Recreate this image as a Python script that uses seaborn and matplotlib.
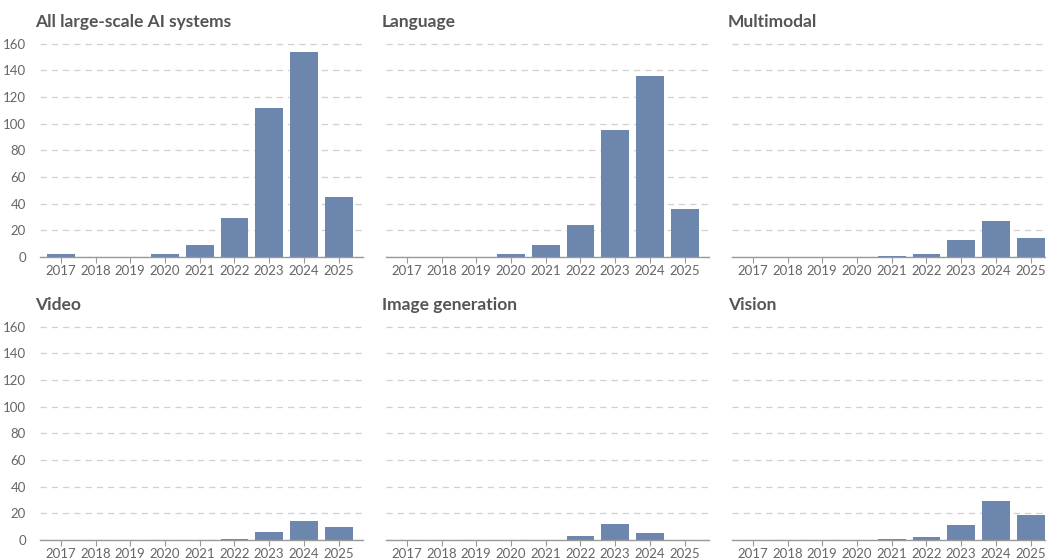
import matplotlib
matplotlib.use("Agg")
import matplotlib.pyplot as plt
import pandas as pd
import seaborn as sns

# data
years = ["2017", "2018", "2019", "2020", "2021", "2022", "2023", "2024", "2025"]
all_systems = [2, 0, 0, 2, 9, 29, 112, 154, 45]
language = [0, 0, 0, 2, 9, 24, 95, 136, 36]
multimodal = [0, 0, 0, 0, 1, 2, 13, 27, 14]
video = [0, 0, 0, 0, 0, 1, 6, 14, 10]
image_generation = [0, 0, 0, 0, 0, 3, 12, 5, 0]
vision = [0, 0, 0, 0, 1, 2, 11, 29, 19]

panels = [
    ("All large-scale AI systems", all_systems),
    ("Language", language),
    ("Multimodal", multimodal),
    ("Video", video),
    ("Image generation", image_generation),
    ("Vision", vision),
]

sns.set_theme(style="white")
plt.rcParams["font.family"] = ["Lato", "DejaVu Sans"]

BAR = "#6c86ae"
TICK = "#666666"
W, H = 1046, 559

fig = plt.figure(figsize=(W / 100, H / 100), dpi=100)

# pixel layout: (left, right) per column, (top, bottom) per row
cols = [(40, 363), (386, 709), (732, 1055)]
rows = [(43, 257), (326, 540)]

for i, (name, vals) in enumerate(panels):
    r, c = divmod(i, 3)
    x0, x1 = cols[c]
    y0, y1 = rows[r]
    ax = fig.add_axes([x0 / W, 1 - y1 / H, (x1 - x0) / W, (y1 - y0) / H])
    df = pd.DataFrame({"year": years, "count": vals})
    sns.barplot(data=df, x="year", y="count", color=BAR, width=0.8,
                saturation=1, linewidth=0, ax=ax)
    ax.set_xlim(-0.6, 8.7)
    ax.set_ylim(0, 160.5)
    ax.set_yticks(range(0, 161, 20))
    ax.grid(axis="y", color="#d0d0d0", linestyle=(0, (5, 4)), linewidth=0.9)
    ax.set_axisbelow(True)
    for s in ["top", "right", "left"]:
        ax.spines[s].set_visible(False)
    ax.spines["bottom"].set_color("#999999")
    ax.spines["bottom"].set_linewidth(1.0)
    ax.tick_params(axis="x", colors=TICK, labelsize=9.5, length=4, width=0.8,
                   pad=2, bottom=True, color="#999999")
    ax.tick_params(axis="y", colors=TICK, labelsize=9.5, length=0, pad=10)
    if c != 0:
        ax.set_yticklabels([])
    ax.set_xlabel("")
    ax.set_ylabel("")
    tx = 35 if c == 0 else x0 - 4
    fig.text(tx / W, 1 - (y0 - 21) / H, name, fontsize=12.5, fontweight="bold",
             color="#555555", ha="left", va="center")

fig.savefig("out.png", dpi=100)
